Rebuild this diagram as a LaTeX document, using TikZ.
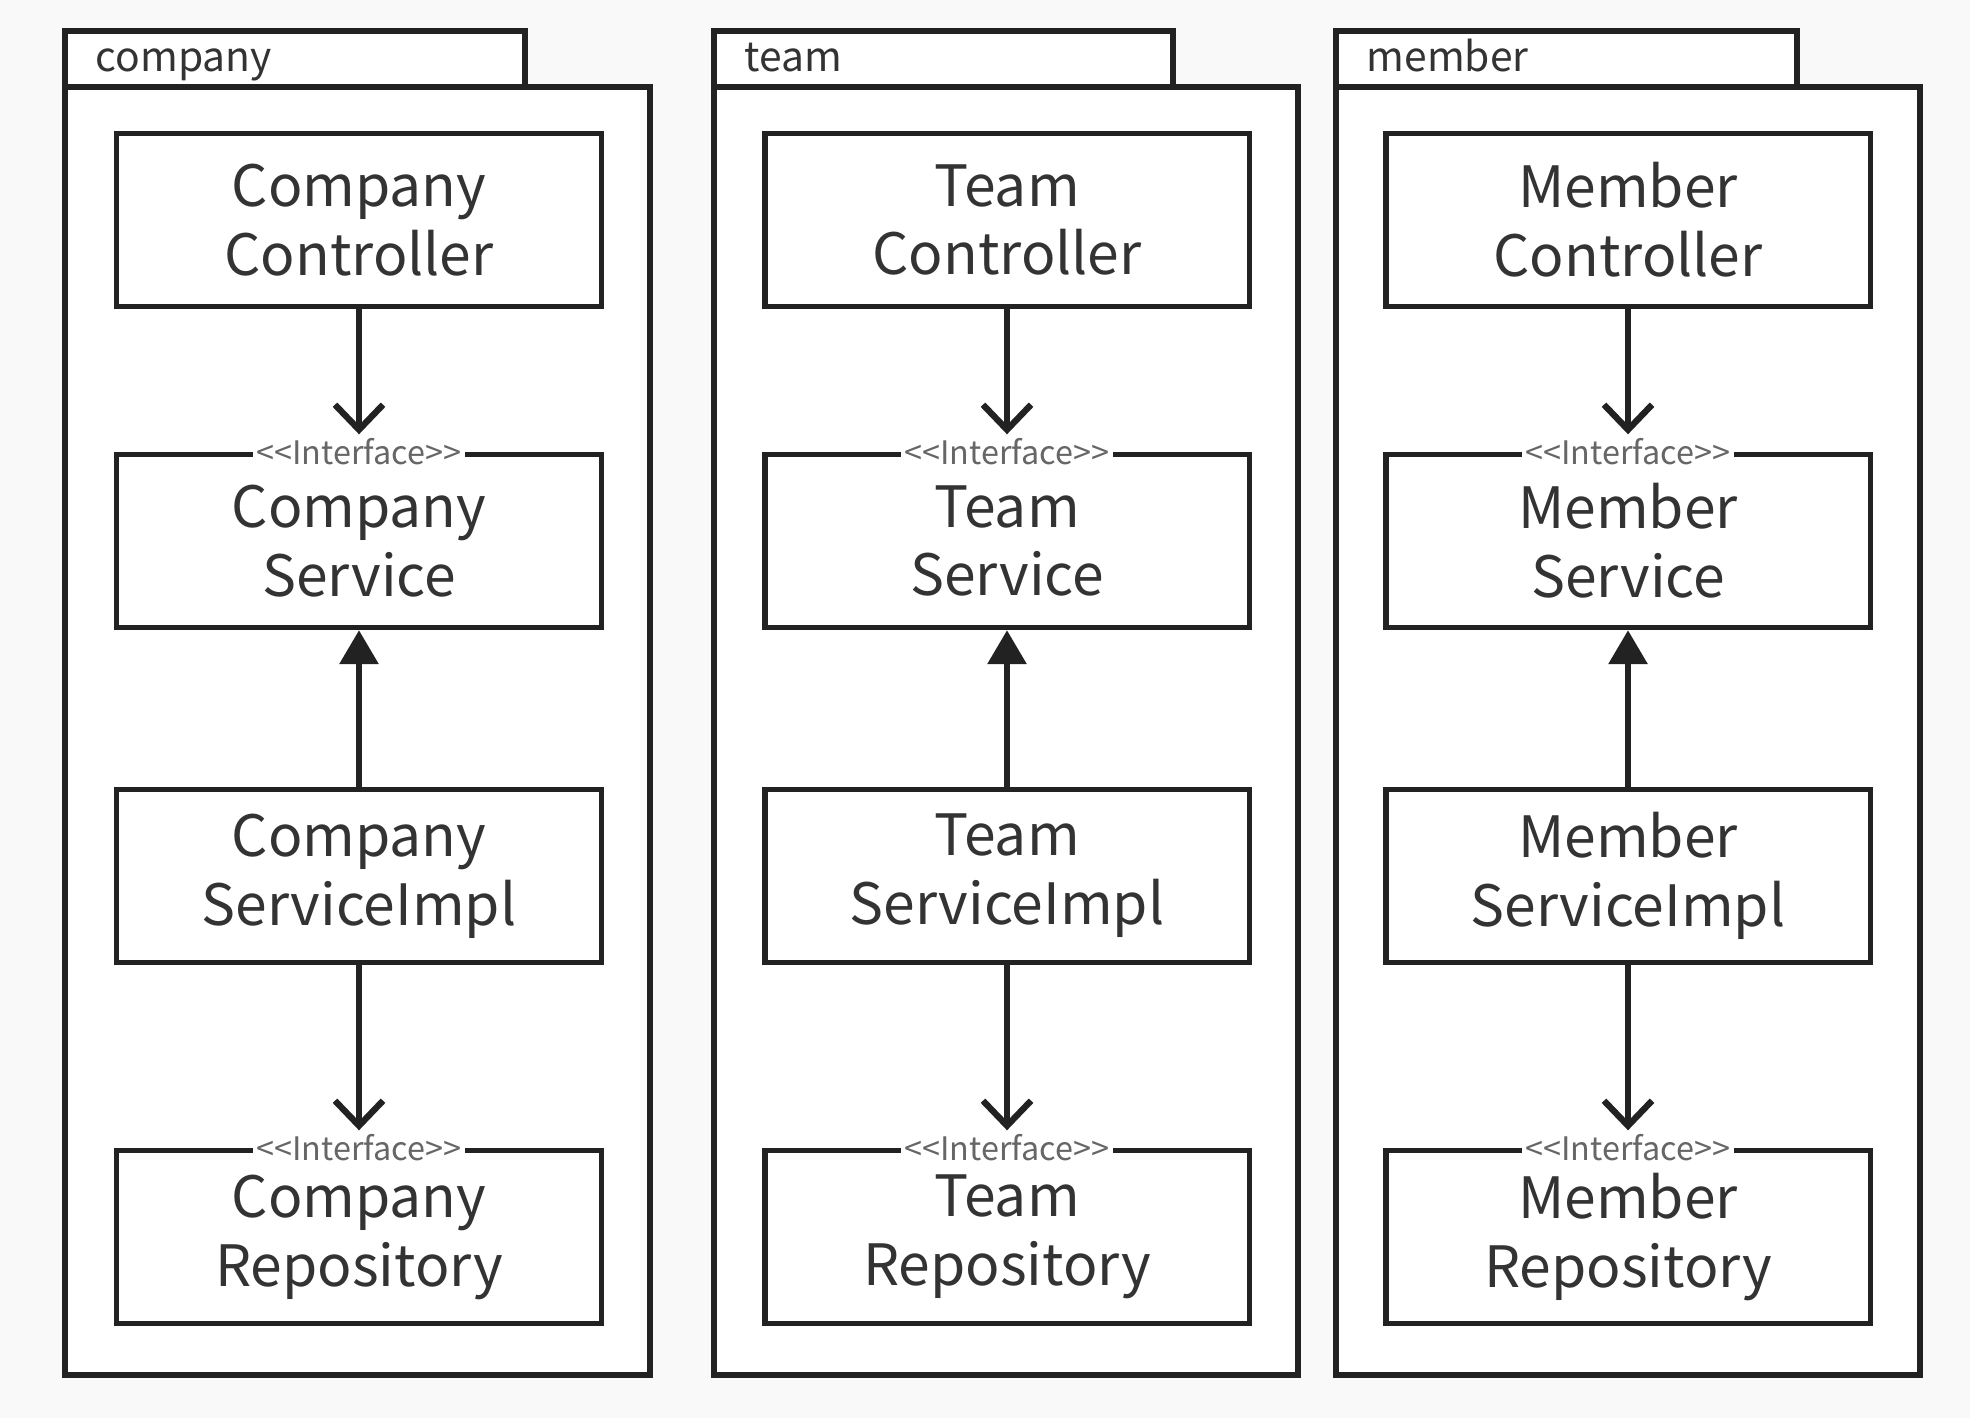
\documentclass[tikz,border=0pt]{standalone}
\usepackage{fontspec}
\setmainfont{Noto Sans CJK KR}
\usepackage{tikz}
\usetikzlibrary{arrows.meta, positioning}
\definecolor{bgGray}{HTML}{F9F9F9}
\definecolor{lineDark}{HTML}{222222}
\definecolor{textDark}{HTML}{333333}
\definecolor{stereoGray}{HTML}{666666}
\tikzset{
  cls/.style={draw=lineDark, line width=1.5pt, fill=white, minimum width=4.84cm,
              minimum height=1.73cm, align=center, text=textDark,
              font=\fontsize{16.2}{19.6}\selectfont},
  stereo/.style={fill=white, inner sep=1pt, text=stereoGray, font=\fontsize{9.2}{9.2}\selectfont},
  pkg/.style={draw=lineDark, line width=1.5pt, fill=white},
  pkglabel/.style={anchor=base west, text=textDark, inner sep=0pt, font=\fontsize{11.6}{12}\selectfont},
  dep/.style={draw=lineDark, line width=1.8pt, -{Straight Barb[length=0.25cm, width=0.48cm, line width=1.8pt]}},
  real/.style={draw=lineDark, line width=1.8pt, -{Triangle[length=0.34cm, width=0.38cm]}}
}

\begin{document}
\begin{tikzpicture}[x=0.01cm, y=-0.01cm]
  \fill[bgGray] (0,0) rectangle (1970,1418);
  \useasboundingbox (0,0) rectangle (1970,1418);

  % packages
  \draw[pkg] (65,31) rectangle (525,87);
  \draw[pkg] (65,87) rectangle (650,1375);
  \node[pkglabel] (companylbl) at (95,71) {company};
  \draw[pkg] (714,31) rectangle (1173,87);
  \draw[pkg] (714,87) rectangle (1298,1375);
  \node[pkglabel] (teamlbl) at (744,71) {team};
  \draw[pkg] (1336,31) rectangle (1797,87);
  \draw[pkg] (1336,87) rectangle (1920,1375);
  \node[pkglabel] (memberlbl) at (1366,71) {member};

  % company
  \node[cls] (cctrl) at (359,220) {Company\\Controller};
  \node[cls] (csvc) at (359,541) {Company\\Service};
  \node[cls] (cimpl) at (359,876) {Company\\ServiceImpl};
  \node[cls] (crepo) at (359,1237) {Company\\Repository};
  \node[stereo] (csvcst) at (csvc.north) {<{}<Interface>{}>};
  \node[stereo] (crepost) at (crepo.north) {<{}<Interface>{}>};

  % team
  \node[cls] (tctrl) at (1007,220) {Team\\Controller};
  \node[cls] (tsvc) at (1007,541) {Team\\Service};
  \node[cls] (timpl) at (1007,876) {Team\\ServiceImpl};
  \node[cls] (trepo) at (1007,1237) {Team\\Repository};
  \node[stereo] (tsvcst) at (tsvc.north) {<{}<Interface>{}>};
  \node[stereo] (trepost) at (trepo.north) {<{}<Interface>{}>};

  % member
  \node[cls] (mctrl) at (1628,220) {Member\\Controller};
  \node[cls] (msvc) at (1628,541) {Member\\Service};
  \node[cls] (mimpl) at (1628,876) {Member\\ServiceImpl};
  \node[cls] (mrepo) at (1628,1237) {Member\\Repository};
  \node[stereo] (msvcst) at (msvc.north) {<{}<Interface>{}>};
  \node[stereo] (mrepost) at (mrepo.north) {<{}<Interface>{}>};

  % dependencies
  \draw[dep] (cctrl) -- (csvcst);
  \draw[real] (cimpl) -- (csvc);
  \draw[dep] (cimpl) -- (crepost);
  \draw[dep] (tctrl) -- (tsvcst);
  \draw[real] (timpl) -- (tsvc);
  \draw[dep] (timpl) -- (trepost);
  \draw[dep] (mctrl) -- (msvcst);
  \draw[real] (mimpl) -- (msvc);
  \draw[dep] (mimpl) -- (mrepost);
\end{tikzpicture}
\end{document}
